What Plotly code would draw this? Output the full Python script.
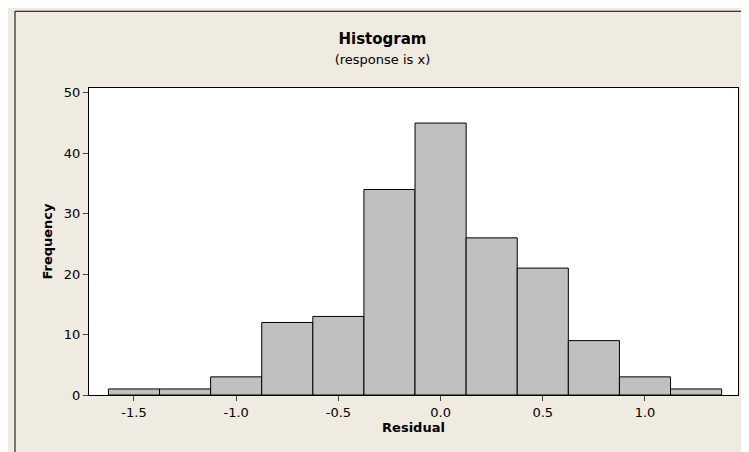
import plotly.graph_objects as go

centers = [-1.5, -1.25, -1.0, -0.75, -0.5, -0.25, 0.0, 0.25, 0.5, 0.75, 1.0, 1.25]
counts = [1, 1, 3, 12, 13, 34, 45, 26, 21, 9, 3, 1]
x_ticks = [-1.5, -1.0, -0.5, 0.0, 0.5, 1.0]
y_ticks = [0, 10, 20, 30, 40, 50]

font = "DejaVu Sans, Verdana, sans-serif"

fig = go.Figure(
    go.Bar(
        x=centers, y=counts, width=0.25,
        marker=dict(color="#c0c0c0", line=dict(color="black", width=1)),
    )
)
fig.update_layout(
    width=749, height=452,
    paper_bgcolor="#f0ebe0", plot_bgcolor="white",
    margin=dict(l=81, r=19, t=80, b=65),
    showlegend=False,
    font=dict(family=font, size=13, color="black"),
    title=dict(
        text="<b>Histogram</b><br><span style='font-size:13px'>(response is x)</span>",
        x=0.5, xanchor="center", y=0.92, yanchor="top",
        font=dict(size=15),
    ),
    shapes=[dict(type="rect", xref="paper", yref="paper", x0=-0.114, x1=1.1, y0=-0.3, y1=1.25,
                 line=dict(color="black", width=1), fillcolor="rgba(0,0,0,0)", layer="below")],
)
fig.update_xaxes(
    range=[-1.72, 1.455], tickvals=x_ticks, ticktext=[f"{v:.1f}" for v in x_ticks],
    ticks="outside", ticklen=5, showgrid=False, zeroline=False,
    showline=True, linecolor="black", mirror=True,
    title=dict(text="<b>Residual</b>", standoff=4, font=dict(size=13)),
)
fig.update_yaxes(
    range=[0, 50.8], tickvals=y_ticks, ticks="outside", ticklen=5,
    showgrid=False, zeroline=False, showline=True, linecolor="black", mirror=True,
    title=dict(text="<b>Frequency</b>", standoff=8, font=dict(size=13)),
)
fig.write_html("out.html")
